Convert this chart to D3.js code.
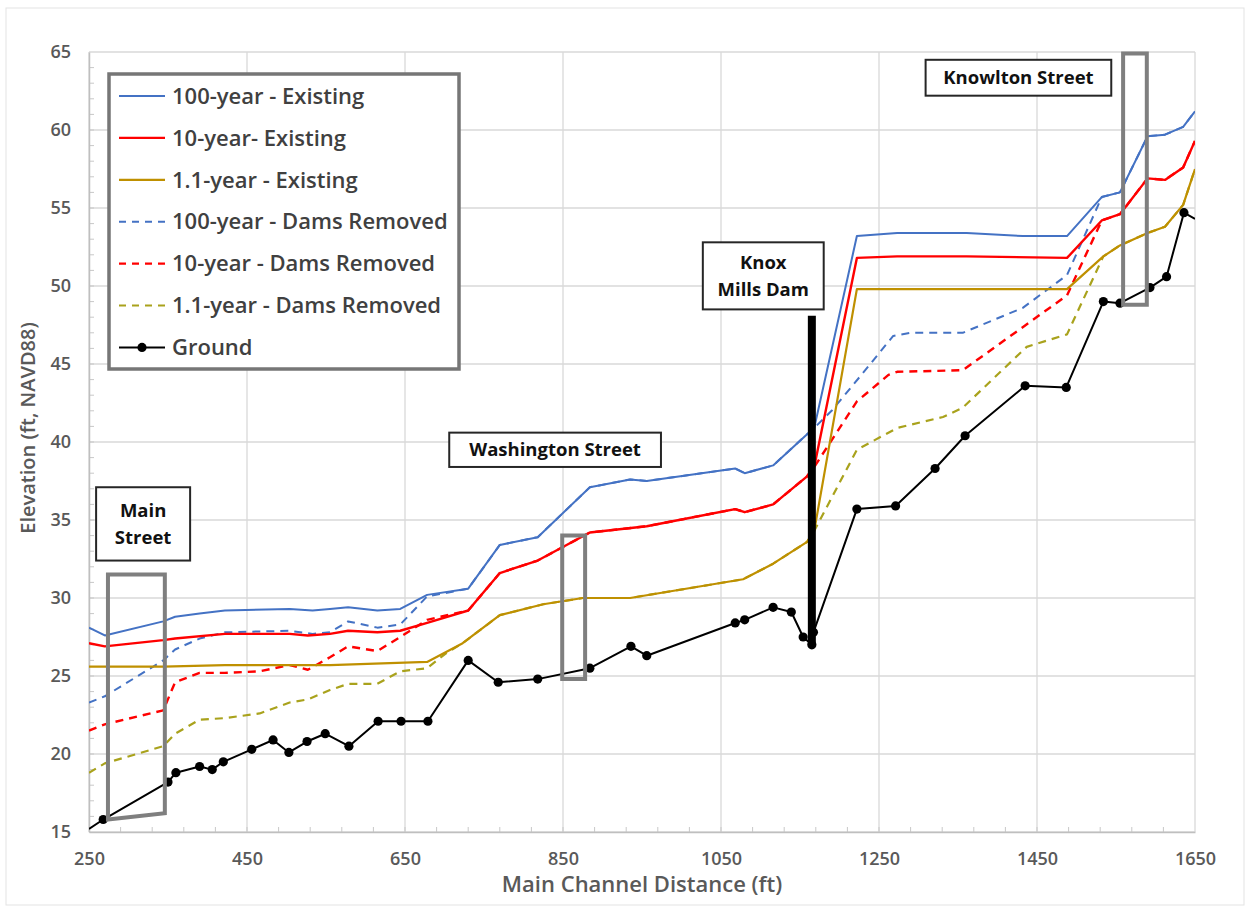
<!DOCTYPE html>
<html>
<head>
<meta charset="utf-8">
<script src="https://cdn.jsdelivr.net/npm/d3@7"></script>
<style>
  body { margin: 0; background: #fff; }
  text { font-family: "Open Sans", sans-serif; }
</style>
</head>
<body>
<div id="chart"></div>
<script>
// ---- data (distance ft, elevation ft NAVD88) ----
const xTicks = [250, 450, 650, 850, 1050, 1250, 1450, 1650];
const yTicks = [15, 20, 25, 30, 35, 40, 45, 50, 55, 60, 65];

const existing100 = [[250,28.1],[270,27.6],[344,28.5],[359,28.8],[390,29.0],[422,29.2],[504,29.3],[533,29.2],[555,29.3],[578,29.4],[615,29.2],[644,29.3],[678,30.2],[730,30.6],[770,33.4],[818,33.9],[884,37.1],[935,37.6],[956,37.5],[1068,38.3],[1080,38.0],[1116,38.5],[1159,40.5],[1168,40.9],[1222,53.2],[1273,53.4],[1361,53.4],[1432,53.2],[1488,53.2],[1532,55.7],[1555,56.0],[1590,59.6],[1612,59.7],[1635,60.2],[1650,61.2]];
const existing10 = [[250,27.1],[270,26.9],[344,27.3],[359,27.4],[422,27.7],[504,27.7],[527,27.6],[555,27.7],[578,27.9],[615,27.8],[644,27.9],[678,28.4],[730,29.2],[770,31.6],[818,32.4],[884,34.2],[956,34.6],[1068,35.7],[1080,35.5],[1116,36.0],[1159,37.8],[1168,38.4],[1222,51.8],[1273,51.9],[1361,51.9],[1488,51.8],[1532,54.2],[1555,54.6],[1590,56.9],[1612,56.8],[1635,57.6],[1650,59.3]];
const existing1 = [[250,25.6],[344,25.6],[422,25.7],[555,25.7],[678,25.9],[723,27.1],[770,28.9],[825,29.6],[875,30.0],[935,30.0],[1078,31.2],[1116,32.2],[1159,33.6],[1168,34.3],[1222,49.8],[1488,49.8],[1534,51.9],[1555,52.6],[1590,53.4],[1612,53.8],[1635,55.2],[1650,57.5]];

const removed100 = [[250,23.3],[270,23.7],[344,26.0],[359,26.7],[390,27.4],[422,27.8],[504,27.9],[533,27.7],[555,27.8],[578,28.5],[615,28.1],[644,28.3],[678,30.1],[730,30.6],[770,33.4],[818,33.9],[884,37.1],[935,37.6],[956,37.5],[1068,38.3],[1080,38.0],[1116,38.5],[1159,40.5],[1168,40.9],[1190,42.0],[1226,44.2],[1268,46.8],[1290,47.0],[1356,47.0],[1432,48.6],[1488,50.7],[1532,55.7],[1555,56.0],[1590,59.6],[1612,59.7],[1635,60.2],[1650,61.2]];
const removed10 = [[250,21.5],[270,21.9],[344,22.8],[359,24.6],[390,25.2],[422,25.2],[466,25.3],[504,25.7],[527,25.4],[555,26.2],[578,26.9],[615,26.6],[644,27.5],[678,28.6],[730,29.2],[770,31.6],[818,32.4],[884,34.2],[956,34.6],[1068,35.7],[1080,35.5],[1116,36.0],[1159,37.8],[1168,38.4],[1222,42.6],[1262,44.3],[1273,44.5],[1356,44.6],[1488,49.4],[1532,54.2],[1555,54.6],[1590,56.9],[1612,56.8],[1635,57.6],[1650,59.3]];
const removed1 = [[250,18.8],[270,19.4],[344,20.5],[359,21.3],[390,22.2],[422,22.3],[466,22.6],[504,23.3],[527,23.5],[555,24.1],[578,24.5],[615,24.5],[644,25.3],[678,25.5],[703,26.5],[723,27.1],[770,28.9],[825,29.6],[875,30.0],[935,30.0],[1078,31.2],[1116,32.2],[1159,33.6],[1168,34.3],[1222,39.5],[1273,40.9],[1331,41.6],[1356,42.2],[1437,46.1],[1488,46.9],[1534,51.9],[1555,52.6],[1590,53.4],[1612,53.8],[1635,55.2],[1650,57.5]];

const ground = [[250,15.2],[268,15.8],[350,18.2],[360,18.8],[390,19.2],[406,19.0],[420,19.5],[456,20.3],[483,20.9],[503,20.1],[526,20.8],[549,21.3],[579,20.5],[616,22.1],[645,22.1],[679,22.1],[730,26.0],[768,24.6],[818,24.8],[884,25.5],[936,26.9],[956,26.3],[1068,28.4],[1080,28.6],[1116,29.4],[1139,29.1],[1154,27.5],[1165,27.0],[1167,27.8],[1222,35.7],[1271,35.9],[1321,38.3],[1359,40.4],[1435,43.6],[1487,43.5],[1534,49.0],[1555,48.9],[1593,49.9],[1614,50.6],[1636,54.7],[1650,54.3]];

// street / dam annotations in data units
const labelBoxes = [
  { lines: ['Main', 'Street'], x0: 259, x1: 378, y0: 32.4, y1: 37.1 },
  { lines: ['Washington Street'], x0: 706, x1: 974, y0: 38.4, y1: 40.6 },
  { lines: ['Knox', 'Mills Dam'], x0: 1027, x1: 1180, y0: 48.5, y1: 52.8 },
  { lines: ['Knowlton Street'], x0: 1309, x1: 1544, y0: 62.2, y1: 64.5 }
];
const bridges = [
  [[274,31.5],[346,31.5],[346,16.2],[274,15.8]],
  [[849,34.0],[878,34.0],[878,24.8],[849,24.8]],
  [[1559,64.9],[1589,64.9],[1589,48.8],[1559,48.8]]
];
const dam = { x: 1165, top: 48.1, bottom: 27.0 };

const series = [
  { name: '100-year - Existing', data: existing100, color: '#4472c4', dash: null, width: 2 },
  { name: '10-year- Existing', data: existing10, color: '#ff0000', dash: null, width: 2.4 },
  { name: '1.1-year - Existing', data: existing1, color: '#bf9000', dash: null, width: 2.2 },
  { name: '100-year - Dams Removed', data: removed100, color: '#4472c4', dash: '8,6', width: 2 },
  { name: '10-year - Dams Removed', data: removed10, color: '#ff0000', dash: '8,6', width: 2.4 },
  { name: '1.1-year - Dams Removed', data: removed1, color: '#a9a21c', dash: '8,6', width: 2.2 },
  { name: 'Ground', data: ground, color: '#000000', dash: null, width: 2, marker: true }
];

// ---- layout ----
const W = 1250, H = 911;
const margin = { top: 52, right: 55, bottom: 79, left: 89 };

const svg = d3.select('#chart').append('svg')
  .attr('width', W).attr('height', H);

svg.append('rect').attr('x', 6).attr('y', 8).attr('width', W - 12).attr('height', H - 14)
  .attr('fill', '#fff').attr('stroke', '#e3e3e3');

const x = d3.scaleLinear().domain([250, 1650]).range([margin.left, W - margin.right]);
const y = d3.scaleLinear().domain([15, 65]).range([H - margin.bottom, margin.top]);

// gridlines
const grid = svg.append('g').attr('stroke', '#d9d9d9').attr('stroke-width', 1.3);
grid.selectAll('.gx').data(xTicks).join('line')
  .attr('x1', d => x(d)).attr('x2', d => x(d))
  .attr('y1', y(15)).attr('y2', y(65));
grid.selectAll('.gy').data(yTicks).join('line')
  .attr('x1', x(250)).attr('x2', x(1650))
  .attr('y1', d => y(d)).attr('y2', d => y(d));

// minor ticks
const minor = svg.append('g').attr('stroke', '#c8c8c8').attr('stroke-width', 1);
minor.selectAll('.mx').data(d3.range(290, 1650, 40)).join('line')
  .attr('x1', d => x(d)).attr('x2', d => x(d))
  .attr('y1', y(15)).attr('y2', y(15) - 5);
minor.selectAll('.my').data(d3.range(16, 65, 1)).join('line')
  .attr('x1', x(250)).attr('x2', x(250) + 5)
  .attr('y1', d => y(d)).attr('y2', d => y(d));

// axes
const xAxis = svg.append('g')
  .attr('transform', `translate(0,${y(15)})`)
  .call(d3.axisBottom(x).tickValues(xTicks).tickSize(0).tickPadding(20).tickFormat(d3.format('d')));
const yAxis = svg.append('g')
  .attr('transform', `translate(${x(250)},0)`)
  .call(d3.axisLeft(y).tickValues(yTicks).tickSize(0).tickPadding(18));
[xAxis, yAxis].forEach(a => {
  a.select('.domain').attr('stroke', '#bfbfbf').attr('stroke-width', 1.5);
  a.selectAll('text').attr('fill', '#595959').style('font-size', '18px').style('font-weight', 600)
    .style('font-family', '"Open Sans", sans-serif');
});

svg.append('text')
  .attr('transform', `translate(${x(950)},892)`)
  .attr('text-anchor', 'middle')
  .attr('fill', '#595959').style('font-size', '22px').style('font-weight', 600)
  .text('Main Channel Distance (ft)');
svg.append('text')
  .attr('transform', `translate(35,${y(40.9)}) rotate(-90)`)
  .attr('text-anchor', 'middle')
  .attr('fill', '#595959').style('font-size', '20px').style('font-weight', 600)
  .text('Elevation (ft, NAVD88)');

// series
svg.append('clipPath').attr('id', 'plot')
  .append('rect').attr('x', x(250)).attr('y', y(65))
  .attr('width', x(1650) - x(250)).attr('height', y(15) - y(65));

const line = d3.line().x(d => x(d[0])).y(d => y(d[1]));
const plot = svg.append('g').attr('clip-path', 'url(#plot)');

// dashed scenarios first so existing lines sit on top where they coincide
const drawOrder = [3, 4, 5, 0, 1, 2, 6];
drawOrder.forEach(i => {
  const s = series[i];
  plot.append('path')
    .datum(s.data)
    .attr('fill', 'none')
    .attr('stroke', s.color)
    .attr('stroke-width', s.width)
    .attr('stroke-dasharray', s.dash)
    .attr('stroke-linejoin', 'round')
    .attr('d', line);
});

// ground markers
svg.append('g').selectAll('circle')
  .data(ground.slice(1, -1))
  .join('circle')
  .attr('cx', d => x(d[0])).attr('cy', d => y(d[1]))
  .attr('r', 4.6).attr('fill', '#000');

// dam
svg.append('line')
  .attr('x1', x(dam.x)).attr('x2', x(dam.x))
  .attr('y1', y(dam.top)).attr('y2', y(dam.bottom))
  .attr('stroke', '#000').attr('stroke-width', 8);

// bridge outlines
svg.append('g').selectAll('path')
  .data(bridges)
  .join('path')
  .attr('d', d => d3.line().x(p => x(p[0])).y(p => y(p[1]))(d) + 'Z')
  .attr('fill', 'none').attr('stroke', '#7f7f7f').attr('stroke-width', 4);

// label boxes
const boxes = svg.append('g').selectAll('g').data(labelBoxes).join('g');
boxes.append('rect')
  .attr('x', d => x(d.x0)).attr('y', d => y(d.y1))
  .attr('width', d => x(d.x1) - x(d.x0)).attr('height', d => y(d.y0) - y(d.y1))
  .attr('fill', '#fff').attr('stroke', '#262626').attr('stroke-width', 2);
boxes.each(function (d) {
  const cx = (x(d.x0) + x(d.x1)) / 2;
  const cy = (y(d.y0) + y(d.y1)) / 2;
  const lh = 27;
  d.lines.forEach((t, i) => {
    d3.select(this).append('text')
      .attr('x', cx)
      .attr('y', cy + (i - (d.lines.length - 1) / 2) * lh)
      .attr('dy', '0.35em')
      .attr('text-anchor', 'middle')
      .attr('fill', '#111')
      .style('font-size', '18.5px').style('font-weight', 700)
      .text(t);
  });
});

// legend
const legend = svg.append('g');
legend.append('rect')
  .attr('x', 109).attr('y', 74).attr('width', 350).attr('height', 295)
  .attr('fill', '#fff').attr('stroke', '#767676').attr('stroke-width', 3.5);
const rows = legend.selectAll('.row').data(series).join('g')
  .attr('transform', (d, i) => `translate(119,${96 + i * 41.9})`);
rows.append('line')
  .attr('x1', 0).attr('x2', 46)
  .attr('stroke', d => d.color).attr('stroke-width', d => d.width)
  .attr('stroke-dasharray', d => d.dash ? '7,6' : null);
rows.filter(d => d.marker).append('circle')
  .attr('cx', 23).attr('r', 4.6).attr('fill', '#000');
rows.append('text')
  .attr('x', 53).attr('dy', '0.35em')
  .attr('fill', '#404040')
  .style('font-size', '22px').style('font-weight', 600)
  .text(d => d.name);
</script>
</body>
</html>
